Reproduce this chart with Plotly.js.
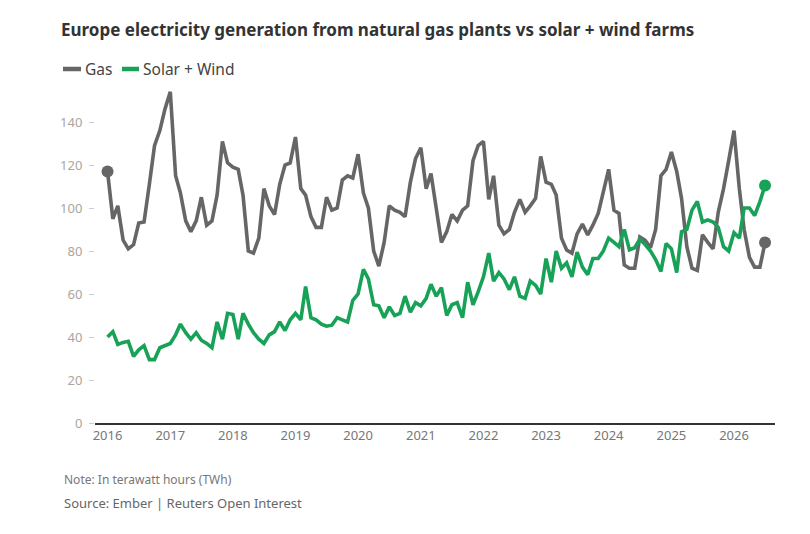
<!DOCTYPE html>
<html>
<head>
<meta charset="utf-8">
<script src="https://cdn.plot.ly/plotly-3.0.1.min.js"></script>
<style>
  html, body { margin: 0; padding: 0; background: #ffffff; }
  #chart { width: 810px; height: 534px; }
</style>
</head>
<body>
<div id="chart"></div>
<script>
// Monthly values, Jan 2016 .. Jul 2026 (TWh)
const startYear = 2016;
const gas = [
  117, 95, 101, 85, 81, 83, 93, 93.5, 111, 129, 136, 146,        // 2016
  154, 115, 107, 94, 89, 94, 105, 92, 94, 106, 131, 121,         // 2017
  119, 118, 106, 80, 79, 86, 109, 101, 97, 111, 120, 121,        // 2018
  133, 109, 106, 96, 91, 91, 105, 99, 100, 113, 115, 114,        // 2019
  125, 107, 100, 80, 73, 84, 101, 99, 98, 96, 112, 123,          // 2020
  128, 109, 116, 100, 84, 89, 97, 94, 99, 101, 122, 129,         // 2021
  131, 104, 115, 92, 88, 90, 98, 104, 98, 101, 104.5, 124,       // 2022
  112, 111, 106, 86, 80.5, 79, 88, 92.5, 87.5, 92, 97.5, 107.5,  // 2023
  118, 99, 97.5, 73.5, 72, 72, 86.5, 85, 81.5, 90, 115, 118,     // 2024
  126, 117, 104.5, 82, 72, 71, 87.5, 84, 81, 98, 109, 122,       // 2025
  136, 109, 90, 77, 72.5, 72.5, 84                               // 2026
];
const solarWind = [
  40, 42.5, 36.5, 37.5, 38, 31, 34, 36, 29.5, 29.5, 35, 36,      // 2016
  37, 41, 46, 42, 39, 42, 38.5, 37, 35, 47, 39, 51,              // 2017
  50.5, 39, 51, 46, 42, 39, 37, 41, 42.5, 47, 43, 48,            // 2018
  51, 48, 63.5, 49, 48, 46, 45, 45.5, 49, 48, 47, 57,            // 2019
  60, 71.5, 67, 55, 54.5, 49, 54, 50, 51, 59, 51.5, 56,          // 2020
  54.5, 58, 64.5, 59, 63, 50, 55, 56, 49, 65.5, 55, 61,          // 2021
  68, 79, 66, 70, 67, 62, 68, 59, 58, 66, 64, 60,                // 2022
  76.5, 65.5, 80, 72, 74.5, 68, 79.5, 72.5, 69, 76.5, 76.5, 80,  // 2023
  86, 84, 82, 90, 80.5, 81.5, 85.5, 83, 80, 76, 70.5, 83.5,      // 2024
  81, 70, 89, 90, 99, 103, 93.5, 94.5, 93.5, 91, 82, 80,         // 2025
  88.5, 86, 100, 100, 96.5, 103, 110.5                           // 2026
];
const seriesNames = ['Gas', 'Solar + Wind'];
const yearTicks = [2016, 2017, 2018, 2019, 2020, 2021, 2022, 2023, 2024, 2025, 2026];
const yTicks = [0, 20, 40, 60, 80, 100, 120, 140];

function monthDate(i) {
  const y = startYear + Math.floor(i / 12);
  const m = (i % 12) + 1;
  return y + '-' + String(m).padStart(2, '0') + '-01';
}
const dates = gas.map((_, i) => monthDate(i));

const gasColor = '#666666';
const greenColor = '#17a257';
const lastIdx = gas.length - 1;

const traces = [
  {
    x: dates, y: gas, name: seriesNames[0], type: 'scatter', mode: 'lines',
    line: { color: gasColor, width: 3.6 }, hoverinfo: 'skip'
  },
  {
    x: dates, y: solarWind, name: seriesNames[1], type: 'scatter', mode: 'lines',
    line: { color: greenColor, width: 3.6 }, hoverinfo: 'skip'
  },
  {
    x: [dates[0], dates[lastIdx]], y: [gas[0], gas[lastIdx]], type: 'scatter', mode: 'markers',
    marker: { color: gasColor, size: 12 }, showlegend: false, hoverinfo: 'skip'
  },
  {
    x: [dates[lastIdx]], y: [solarWind[lastIdx]], type: 'scatter', mode: 'markers',
    marker: { color: greenColor, size: 12 }, showlegend: false, hoverinfo: 'skip'
  }
];

const L = 95, R = 35, T = 79, B = 111;
const plotW = 810 - L - R, plotH = 534 - T - B;
function px2paperX(px) { return (px - L) / plotW; }
function px2paperY(py) { return (534 - B - py) / plotH; }

// custom legend (short rounded-looking swatches like the original)
const legendY = px2paperY(69);
const legendItems = [
  { name: seriesNames[0], color: gasColor, x0: 63, x1: 81, tx: 83 },
  { name: seriesNames[1], color: greenColor, x0: 122, x1: 139, tx: 141 }
];
const shapes = legendItems.map(it => ({
  type: 'line', xref: 'paper', yref: 'paper',
  x0: px2paperX(it.x0), x1: px2paperX(it.x1), y0: legendY, y1: legendY,
  line: { color: it.color, width: 4.5 }
}));
const legendAnn = legendItems.map(it => ({
  text: it.name, showarrow: false, xref: 'paper', yref: 'paper',
  x: px2paperX(it.tx), y: legendY, xanchor: 'left', yanchor: 'middle',
  font: { size: 15.5, color: '#444444' }
}));

const layout = {
  width: 810, height: 534,
  margin: { l: L, r: R, t: T, b: B, pad: 0 },
  paper_bgcolor: '#ffffff', plot_bgcolor: '#ffffff',
  font: { family: 'Noto Sans, Open Sans, sans-serif', color: '#444444' },
  title: {
    text: '<b>Europe electricity generation from natural gas plants vs solar + wind farms</b>',
    font: { size: 17, color: '#333333', family: 'Noto Sans, sans-serif' },
    x: 61 / 810, xanchor: 'left', xref: 'container',
    y: 1 - 30 / 534, yanchor: 'middle', yref: 'container'
  },
  showlegend: false,
  xaxis: {
    type: 'date',
    range: ['2015-10-20', '2026-08-28'],
    tickvals: yearTicks.map(y => y + '-01-01'),
    ticktext: yearTicks.map(String),
    showgrid: false, zeroline: false,
    showline: true, linecolor: '#333333', linewidth: 1.5,
    ticks: '',
    tickfont: { size: 13, color: '#777777' },
    fixedrange: true
  },
  yaxis: {
    range: [0, 160],
    tickvals: yTicks,
    ticktext: yTicks.map(String),
    showgrid: false, zeroline: false, showline: false,
    ticks: 'outside', ticklen: 5, tickcolor: '#cccccc', tickwidth: 1,
    ticklabelstandoff: 4,
    tickfont: { size: 13, color: '#ada49d' },
    fixedrange: true
  },
  shapes: shapes,
  annotations: legendAnn.concat([
    {
      text: 'Note: In terawatt hours (TWh)', showarrow: false,
      xref: 'paper', yref: 'paper', x: px2paperX(62), y: px2paperY(479),
      xanchor: 'left', yanchor: 'middle',
      font: { size: 12, color: '#777777' }
    },
    {
      text: 'Source: Ember | Reuters Open Interest', showarrow: false,
      xref: 'paper', yref: 'paper', x: px2paperX(62), y: px2paperY(503),
      xanchor: 'left', yanchor: 'middle',
      font: { size: 13, color: '#666666' }
    }
  ])
};

Plotly.newPlot('chart', traces, layout, { displayModeBar: false, staticPlot: true });
</script>
</body>
</html>
